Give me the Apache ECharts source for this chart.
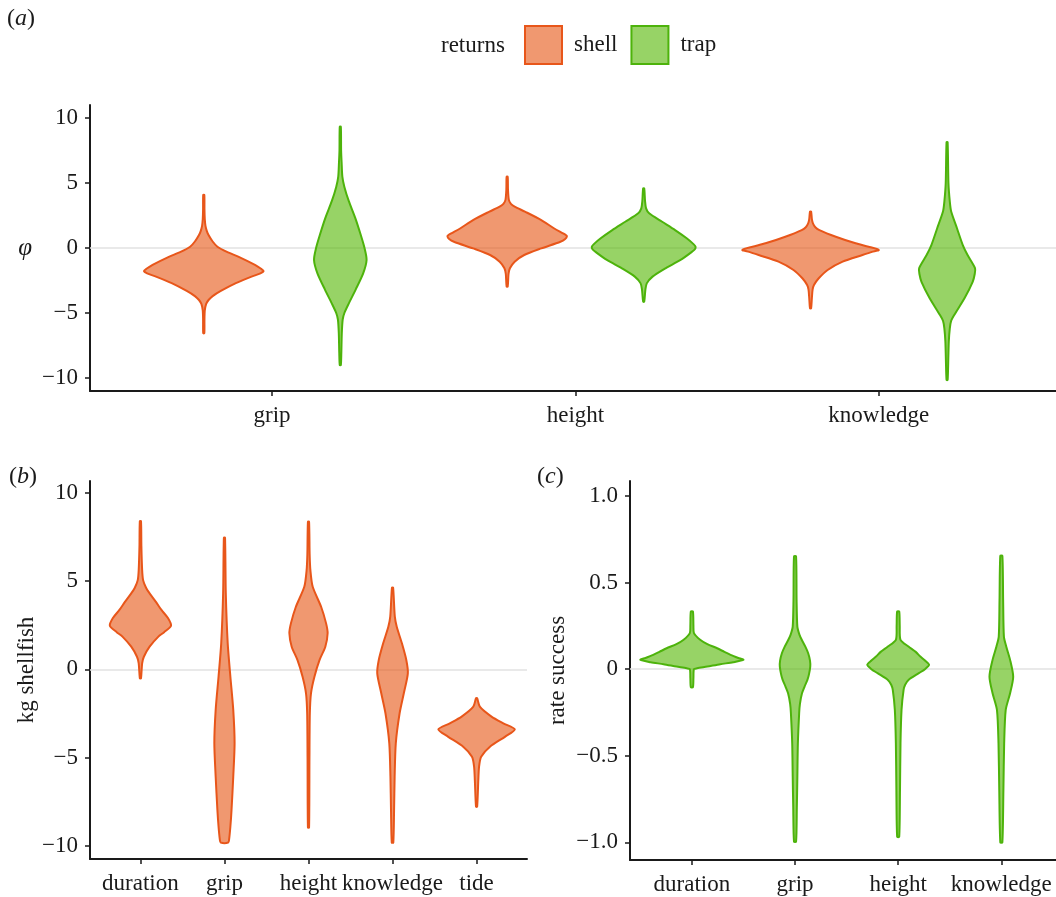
<!DOCTYPE html>
<html>
<head>
<meta charset="utf-8">
<title>Violins</title>
<script src="https://cdn.jsdelivr.net/npm/echarts@6/dist/echarts.min.js"></script>
<style>
  html, body { margin: 0; padding: 0; background: #fff; }
  #chart { width: 1056px; height: 897px; }
</style>
</head>
<body>
<div id="chart"></div>
<script>
// categories per panel
const catsA = ['grip', 'height', 'knowledge'];
const catsB = ['duration', 'grip', 'height', 'knowledge', 'tide'];
const catsC = ['duration', 'grip', 'height', 'knowledge'];

// tick labels
const ticksAB = [-10, -5, 0, 5, 10];
const ticksC = [-1, -0.5, 0, 0.5, 1];

// violin profiles, top to bottom: [value, relative density]
// (a) phi, shell vs trap
const aShellGrip = [[4.08, 0.008], [3.0, 0.01], [2.2, 0.015], [1.7, 0.025], [1.3, 0.045], [1.0, 0.07], [0.5, 0.13], [0.1, 0.2], [-0.3, 0.34], [-0.7, 0.52], [-1.3, 0.75], [-1.6, 0.84], [-1.77, 0.877], [-1.95, 0.83], [-2.2, 0.7], [-2.7, 0.47], [-3.3, 0.25], [-3.7, 0.13], [-4.0, 0.07], [-4.3, 0.035], [-4.8, 0.015], [-5.5, 0.01], [-6.56, 0.008]];
const aShellHeight = [[5.48, 0.008], [4.5, 0.012], [3.7, 0.025], [3.4, 0.055], [3.18, 0.11], [2.8, 0.26], [2.15, 0.5], [1.5, 0.69], [1.0, 0.86], [0.9, 0.875], [0.7, 0.85], [0.48, 0.78], [-0.03, 0.5], [-0.54, 0.25], [-1.05, 0.11], [-1.56, 0.04], [-2.0, 0.02], [-2.97, 0.008]];
const aShellKnow = [[2.8, 0.008], [2.2, 0.02], [1.9, 0.035], [1.6, 0.07], [1.38, 0.13], [0.87, 0.37], [0.36, 0.66], [0.1, 0.85], [-0.15, 1.0], [-0.3, 0.9], [-0.54, 0.76], [-1.05, 0.47], [-1.69, 0.25], [-2.33, 0.12], [-2.85, 0.05], [-3.2, 0.03], [-3.8, 0.02], [-4.64, 0.008]];
const aTrapGrip = [[9.33, 0.008], [7.5, 0.012], [6.5, 0.02], [5.5, 0.03], [4.7, 0.06], [3.6, 0.125], [2.3, 0.22], [1.0, 0.3], [0.0, 0.355], [-0.92, 0.385], [-1.95, 0.335], [-3.2, 0.225], [-4.26, 0.125], [-5.0, 0.06], [-5.5, 0.035], [-6.56, 0.022], [-8.1, 0.015], [-9.0, 0.008]];
const aTrapHeight = [[4.59, 0.008], [3.6, 0.02], [3.05, 0.035], [2.67, 0.08], [2.02, 0.27], [1.38, 0.46], [0.75, 0.63], [0.3, 0.73], [0.1, 0.76], [-0.1, 0.75], [-0.28, 0.71], [-0.92, 0.54], [-1.56, 0.32], [-2.2, 0.13], [-2.72, 0.045], [-3.2, 0.025], [-4.13, 0.008]];
const aTrapKnow = [[8.13, 0.008], [5.0, 0.02], [3.56, 0.04], [2.8, 0.06], [1.52, 0.145], [0.23, 0.23], [-0.54, 0.3], [-1.56, 0.41], [-2.0, 0.405], [-2.6, 0.375], [-3.87, 0.255], [-5.15, 0.105], [-5.6, 0.06], [-6.18, 0.04], [-7.2, 0.025], [-8.5, 0.018], [-10.15, 0.008]];

// (b) kg shellfish
const bDuration = [[8.39, 0.015], [7.0, 0.025], [5.62, 0.045], [5.05, 0.07], [4.6, 0.15], [4.3, 0.24], [3.8, 0.41], [3.36, 0.55], [2.9, 0.72], [2.47, 0.8], [2.1, 0.62], [1.85, 0.47], [1.28, 0.24], [0.71, 0.09], [0.34, 0.045], [-0.51, 0.015]];
const bGrip = [[7.45, 0.015], [4.3, 0.035], [1.47, 0.085], [-0.42, 0.155], [-2.3, 0.23], [-4.19, 0.265], [-6.08, 0.23], [-7.96, 0.185], [-8.9, 0.155], [-9.66, 0.12], [-9.81, 0.1]];
const bHeight = [[8.35, 0.015], [6.5, 0.03], [5.6, 0.05], [4.67, 0.11], [3.54, 0.33], [2.6, 0.46], [2.04, 0.5], [1.28, 0.44], [0.53, 0.29], [-0.42, 0.155], [-1.36, 0.065], [-2.49, 0.035], [-5.0, 0.025], [-8.96, 0.015]];
const bKnow = [[4.62, 0.015], [2.98, 0.06], [2.41, 0.11], [1.47, 0.245], [0.53, 0.36], [-0.23, 0.4], [-1.36, 0.295], [-2.49, 0.185], [-4.19, 0.085], [-6.08, 0.055], [-8.0, 0.04], [-9.81, 0.02]];
const bTide = [[-1.64, 0.015], [-2.12, 0.085], [-2.68, 0.39], [-3.06, 0.7], [-3.4, 1.0], [-3.81, 0.75], [-4.38, 0.35], [-4.95, 0.12], [-5.51, 0.065], [-6.3, 0.045], [-7.78, 0.015]];

// (c) rate success
const cDuration = [[0.333, 0.02], [0.25, 0.03], [0.208, 0.04], [0.17, 0.16], [0.145, 0.3], [0.121, 0.49], [0.1, 0.63], [0.083, 0.75], [0.065, 0.9], [0.054, 1.0], [0.04, 0.8], [0.029, 0.55], [0.015, 0.3], [0.005, 0.1], [0.0, 0.04], [-0.05, 0.03], [-0.104, 0.02]];
const cGrip = [[0.651, 0.02], [0.4, 0.03], [0.246, 0.045], [0.2, 0.085], [0.17, 0.13], [0.13, 0.2], [0.092, 0.255], [0.05, 0.29], [0.015, 0.295], [-0.03, 0.27], [-0.062, 0.24], [-0.1, 0.185], [-0.139, 0.135], [-0.2, 0.095], [-0.254, 0.08], [-0.428, 0.055], [-0.62, 0.045], [-0.8, 0.035], [-0.996, 0.02]];
const cHeight = [[0.333, 0.02], [0.25, 0.03], [0.17, 0.045], [0.131, 0.2], [0.1, 0.34], [0.073, 0.43], [0.05, 0.52], [0.025, 0.6], [0.0, 0.52], [-0.023, 0.4], [-0.062, 0.2], [-0.09, 0.135], [-0.12, 0.105], [-0.235, 0.065], [-0.428, 0.045], [-0.7, 0.035], [-0.968, 0.02]];
const cKnow = [[0.655, 0.02], [0.4, 0.035], [0.188, 0.05], [0.131, 0.095], [0.054, 0.17], [-0.043, 0.23], [-0.139, 0.17], [-0.235, 0.085], [-0.428, 0.055], [-0.7, 0.04], [-1.0, 0.02]];

const FONT = 'Liberation Serif';
const INK = '#1a1a1a';
const shellColor = { fill: 'rgba(230,83,17,0.6)', line: '#E8561A' };
const trapColor = { fill: 'rgba(82,182,0,0.6)', line: '#4DB30B' };

const chart = echarts.init(document.getElementById('chart'));

function minus(v) {
  return String(v).replace('-', '\u2212');
}

// one custom series draws a set of violins on one grid
function violinSeries(name, profiles, axisIdx, offset, halfMax, color) {
  return {
    name: name,
    type: 'custom',
    xAxisIndex: axisIdx,
    yAxisIndex: axisIdx,
    z: 3,
    data: profiles.map((p, i) => [i + 1, p[0][0], p[p.length - 1][0]]),
    encode: { x: 0, y: [1, 2] },
    renderItem: function (params, api) {
      const prof = profiles[params.dataIndex];
      const x = api.value(0) + offset;
      const right = prof.map(p => api.coord([x + p[1] * halfMax, p[0]]));
      const left = prof.slice().reverse().map(p => api.coord([x - p[1] * halfMax, p[0]]));
      return {
        type: 'polygon',
        shape: { points: right.concat(left), smooth: 0.25 },
        style: { fill: color.fill, stroke: color.line, lineWidth: 2, lineJoin: 'round' }
      };
    }
  };
}

function zeroLine(axisIdx) {
  return {
    type: 'line',
    xAxisIndex: axisIdx,
    yAxisIndex: axisIdx,
    data: [],
    z: 1,
    silent: true,
    markLine: {
      silent: true,
      z: 1,
      symbol: ['none', 'none'],
      label: { show: false },
      lineStyle: { color: '#e2e2e2', width: 1.5, type: 'solid' },
      data: [{ yAxis: 0 }]
    }
  };
}

function xAxis(idx, cats, max) {
  return {
    type: 'value',
    gridIndex: idx,
    min: 0.4,
    max: max,
    splitLine: { show: false },
    axisLine: { show: true, onZero: false, lineStyle: { color: INK, width: 2 } },
    axisTick: { show: true, length: 5, lineStyle: { color: INK, width: 1.5 }, customValues: cats.map((c, i) => i + 1) },
    axisLabel: {
      customValues: cats.map((c, i) => i + 1),
      formatter: v => cats[Math.round(v) - 1],
      color: INK, fontFamily: FONT, fontSize: 23, margin: 13
    }
  };
}

function yAxis(idx, min, max, ticks, fmt, name, gap, rotate, italic) {
  return {
    type: 'value',
    gridIndex: idx,
    min: min,
    max: max,
    name: name,
    nameLocation: 'middle',
    nameGap: gap,
    nameRotate: rotate,
    nameTextStyle: { color: INK, fontFamily: FONT, fontSize: italic ? 25 : 23, fontStyle: italic ? 'italic' : 'normal' },
    splitLine: { show: false },
    axisLine: { show: true, onZero: false, lineStyle: { color: INK, width: 2 } },
    axisTick: { show: true, length: 5, lineStyle: { color: INK, width: 1.5 }, customValues: ticks },
    axisLabel: {
      customValues: ticks,
      formatter: fmt,
      color: INK, fontFamily: FONT, fontSize: 23, margin: 12
    }
  };
}

const panelLabel = (letter, x, y) => ({
  type: 'text',
  x: x,
  y: y,
  style: {
    text: '{n|(}{i|' + letter + '}{n|)}',
    rich: {
      n: { fontFamily: FONT, fontSize: 24, fill: INK },
      i: { fontFamily: FONT, fontSize: 24, fontStyle: 'italic', fill: INK }
    },
    verticalAlign: 'middle'
  }
});

const option = {
  animation: false,
  backgroundColor: '#fff',
  textStyle: { fontFamily: FONT },
  grid: [
    { left: 90, top: 105, width: 966, height: 286 },
    { left: 90, top: 481, width: 437, height: 378 },
    { left: 630, top: 481, width: 426, height: 379 }
  ],
  legend: {
    left: 524,
    top: 25,
    padding: 0,
    icon: 'rect',
    itemWidth: 37,
    itemHeight: 38,
    itemGap: 13,
    textStyle: { color: INK, fontFamily: FONT, fontSize: 23, padding: [5, 0, 0, 7] },
    data: [
      { name: 'shell', itemStyle: { color: shellColor.fill, borderColor: shellColor.line, borderWidth: 2 } },
      { name: 'trap', itemStyle: { color: trapColor.fill, borderColor: trapColor.line, borderWidth: 2 } }
    ]
  },
  graphic: [
    panelLabel('a', 7, 19),
    panelLabel('b', 9, 477),
    panelLabel('c', 537, 477),
    {
      type: 'text', x: 441, y: 46,
      style: { text: 'returns', fontFamily: FONT, fontSize: 23, fill: INK, verticalAlign: 'middle' }
    }
  ],
  xAxis: [
    xAxis(0, catsA, 3.584),
    xAxis(1, catsB, 5.6),
    xAxis(2, catsC, 4.53)
  ],
  yAxis: [
    yAxis(0, -11, 11, ticksAB, v => minus(v), '\u03c6', 58, 0, true),
    yAxis(1, -10.74, 10.66, ticksAB, v => minus(v), 'kg shellfish', 46, 90, false),
    yAxis(2, -1.102, 1.087, ticksC, v => (v === 0 ? '0' : minus(v.toFixed(1))), 'rate success', 61, 90, false)
  ],
  series: [
    zeroLine(0), zeroLine(1), zeroLine(2),
    violinSeries('shell', [aShellGrip, aShellHeight, aShellKnow], 0, -0.225, 0.225, shellColor),
    violinSeries('trap', [aTrapGrip, aTrapHeight, aTrapKnow], 0, 0.225, 0.225, trapColor),
    violinSeries('shell', [bDuration, bGrip, bHeight, bKnow, bTide], 1, 0, 0.455, shellColor),
    violinSeries('trap', [cDuration, cGrip, cHeight, cKnow], 2, 0, 0.5, trapColor)
  ]
};

chart.setOption(option);
</script>
</body>
</html>
